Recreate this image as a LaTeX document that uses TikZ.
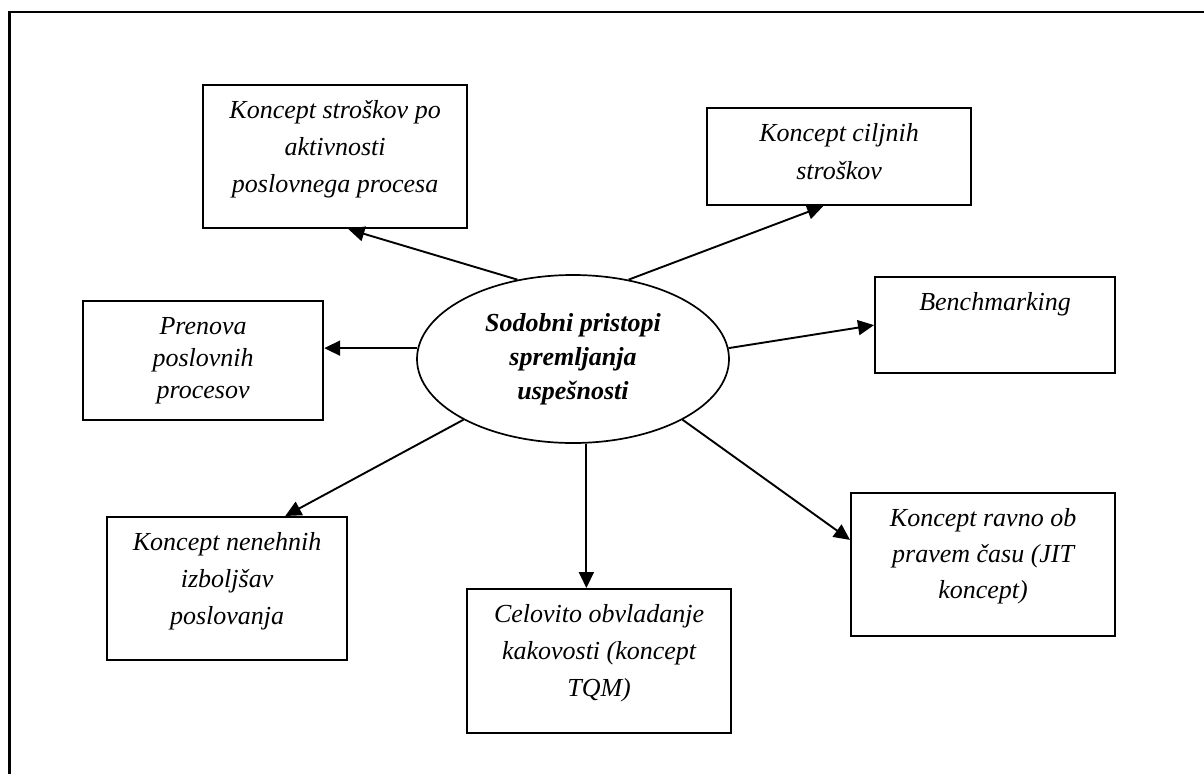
\documentclass[tikz,border=0pt]{standalone}
\usepackage{fontspec}
\setmainfont{Liberation Serif}
\usetikzlibrary{arrows.meta,calc,shapes.geometric}

% top-aligned, centred lines inside a fixed-size card
\newcommand\cardtext[4]{%
  \parbox[c][#2][t]{#1}{\centering\fontsize{26}{#3}\selectfont\itshape
    \rule{0pt}{33pt}#4\par}}

\tikzset{
  card/.style={draw, line width=2.2pt, inner sep=0pt, anchor=north west},
  hub/.style={draw, ellipse, line width=1.7pt, inner sep=0pt,
    minimum width=312pt, minimum height=168pt, align=center,
    font=\fontsize{26}{34}\selectfont\bfseries\itshape},
  link/.style={line width=1.9pt, -{Triangle[length=16pt,width=15pt]}},
  frame/.style={line width=2.2pt}
}

\begin{document}
\begin{tikzpicture}[x=1pt,y=-1pt]
\useasboundingbox (0,0) rectangle (1204,774);
\draw[frame] (9.5,774) -- (9.5,12) -- (1204,12);

\node[hub] (hub) at (573,359) {Sodobni pristopi\\spremljanja\\uspešnosti};

\node[card] (abc) at (202,84)
  {\cardtext{264pt}{143pt}{37pt}{Koncept stroškov po\\aktivnosti\\poslovnega procesa}};
\node[card] (target) at (706,107)
  {\cardtext{264pt}{97pt}{38pt}{Koncept ciljnih\\stroškov}};
\node[card] (bench) at (874,276)
  {\cardtext{240pt}{96pt}{37pt}{Benchmarking}};
\node[card] (reeng) at (82,300)
  {\cardtext{240pt}{119pt}{32pt}{Prenova\\poslovnih\\procesov}};
\node[card] (kaizen) at (106,516)
  {\cardtext{240pt}{143pt}{37pt}{Koncept nenehnih\\izboljšav\\poslovanja}};
\node[card] (tqm) at (466,588)
  {\cardtext{264pt}{144pt}{37pt}{Celovito obvladanje\\kakovosti (koncept\\TQM)}};
\node[card] (jit) at (850,492)
  {\cardtext{264pt}{143pt}{36pt}{Koncept ravno ob\\pravem času (JIT\\koncept)}};

\draw[link] (hub.125) -- ($(abc.south west)!0.55!(abc.south east)$);
\draw[link] (hub.55) -- ($(target.south west)!0.44!(target.south east)$);
\draw[link] (hub.4) -- (bench.west);
\draw[link] (hub.176) -- (hub.176 -| reeng.east);
\draw[link] (hub.209) -- ($(kaizen.north west)!0.74!(kaizen.north east)$);
\draw[link] (hub.279) -- (hub.279 |- tqm.north);
\draw[link] (hub.331) -- ($(jit.north west)!0.33!(jit.south west)$);
\end{tikzpicture}
\end{document}
